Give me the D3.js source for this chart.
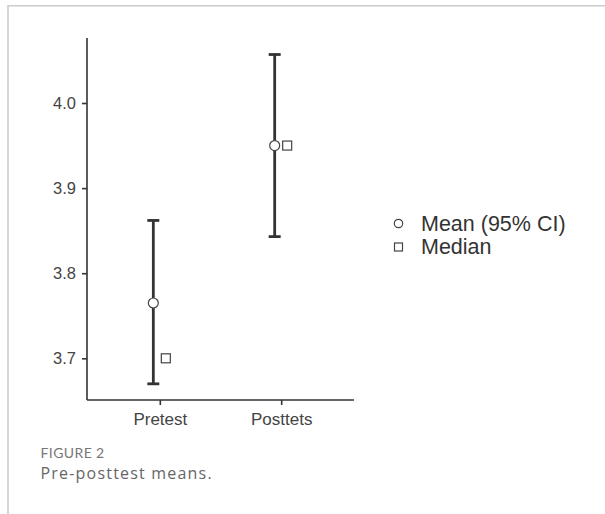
<!DOCTYPE html>
<html>
<head>
<meta charset="utf-8">
<script src="https://cdn.jsdelivr.net/npm/d3@7"></script>
<style>
  html, body { margin: 0; padding: 0; background: #fff; }
  svg { display: block; }
</style>
</head>
<body>
<svg id="chart" width="605" height="514"></svg>
<script>
const categories = ["Pretest", "Posttets"];
const means = [3.765, 3.950];
const lower = [3.670, 3.843];
const upper = [3.862, 4.057];
const medians = [3.700, 3.950];
const yTicks = [3.7, 3.8, 3.9, 4.0];
const legendLabels = ["Mean (95% CI)", "Median"];
const figLabel = "FIGURE 2";
const caption = "Pre-posttest means.";

const svg = d3.select("#chart");
const ink = "#333";

// frame
svg.append("line").attr("x1", 8).attr("x2", 605).attr("y1", 5.8).attr("y2", 5.8)
  .attr("stroke", "#ccc").attr("stroke-width", 1.6);
svg.append("line").attr("x1", 8).attr("x2", 8).attr("y1", 5).attr("y2", 514)
  .attr("stroke", "#ccc").attr("stroke-width", 1.6);

const x = d3.scalePoint().domain(categories).range([87, 354]).padding(0.6);
const y = d3.scaleLinear().domain([3.651, 4.0764]).range([400, 38]);

// y axis
const yAxis = svg.append("g").attr("transform", "translate(87,0)")
  .call(d3.axisLeft(y).tickValues(yTicks).tickFormat(d3.format(".1f")).tickSize(5).tickPadding(6));
yAxis.select(".domain").attr("stroke", ink).attr("stroke-width", 1.6).attr("d", "M0," + y.range()[0] + "V" + y.range()[1]);
yAxis.selectAll(".tick line").attr("stroke", ink).attr("stroke-width", 1.6);
yAxis.selectAll(".tick text").attr("fill", "#444").attr("font-size", 16.5)
  .attr("font-family", "Liberation Sans, Arial, sans-serif");

// x axis
const xAxis = svg.append("g").attr("transform", "translate(0,400)")
  .call(d3.axisBottom(x).tickSize(5).tickPadding(8));
xAxis.select(".domain").attr("stroke", ink).attr("stroke-width", 1.6).attr("d", "M87,0H354");
xAxis.selectAll(".tick line").attr("stroke", ink).attr("stroke-width", 1.6);
xAxis.selectAll(".tick text").attr("fill", "#444").attr("font-size", 17)
  .attr("font-family", "Liberation Sans, Arial, sans-serif");

const meanOff = -6.5, medOff = 6;
const capHalf = 6;

const g = svg.append("g");
categories.forEach((c, i) => {
  const cx = x(c) + meanOff;
  g.append("line").attr("x1", cx).attr("x2", cx).attr("y1", y(upper[i])).attr("y2", y(lower[i]))
    .attr("stroke", ink).attr("stroke-width", 2.8);
  [upper[i], lower[i]].forEach(v => {
    g.append("line").attr("x1", cx - capHalf).attr("x2", cx + capHalf).attr("y1", y(v)).attr("y2", y(v))
      .attr("stroke", ink).attr("stroke-width", 2.8);
  });
  g.append("circle").attr("cx", cx).attr("cy", y(means[i])).attr("r", 5)
    .attr("fill", "#fff").attr("stroke", "#444").attr("stroke-width", 1.2);
  const mx = x(c) + medOff;
  g.append("rect").attr("x", mx - 4.5).attr("y", y(medians[i]) - 4.5).attr("width", 9).attr("height", 9)
    .attr("fill", "#fff").attr("stroke", "#444").attr("stroke-width", 1.2);
});

// legend
const leg = svg.append("g");
leg.append("circle").attr("cx", 398.5).attr("cy", 223.5).attr("r", 4.2)
  .attr("fill", "#fff").attr("stroke", "#444").attr("stroke-width", 1.2);
leg.append("rect").attr("x", 394.5).attr("y", 243).attr("width", 8).attr("height", 8)
  .attr("fill", "#fff").attr("stroke", "#444").attr("stroke-width", 1.2);
legendLabels.forEach((t, i) => {
  leg.append("text").attr("x", 421).attr("y", 230.5 + i * 23.2).text(t)
    .attr("fill", "#333").attr("font-size", 21.5)
    .attr("font-family", "Liberation Sans, Arial, sans-serif");
});

// caption
svg.append("text").attr("x", 40.5).attr("y", 458).text(figLabel)
  .attr("fill", "#777").attr("font-size", 14).attr("font-family", "Lato, sans-serif")
  .attr("letter-spacing", 0.4);
svg.append("text").attr("x", 40.5).attr("y", 478.5).text(caption)
  .attr("fill", "#666").attr("font-size", 16).attr("font-family", "Open Sans, sans-serif")
  .attr("letter-spacing", 1.2);
</script>
</body>
</html>
